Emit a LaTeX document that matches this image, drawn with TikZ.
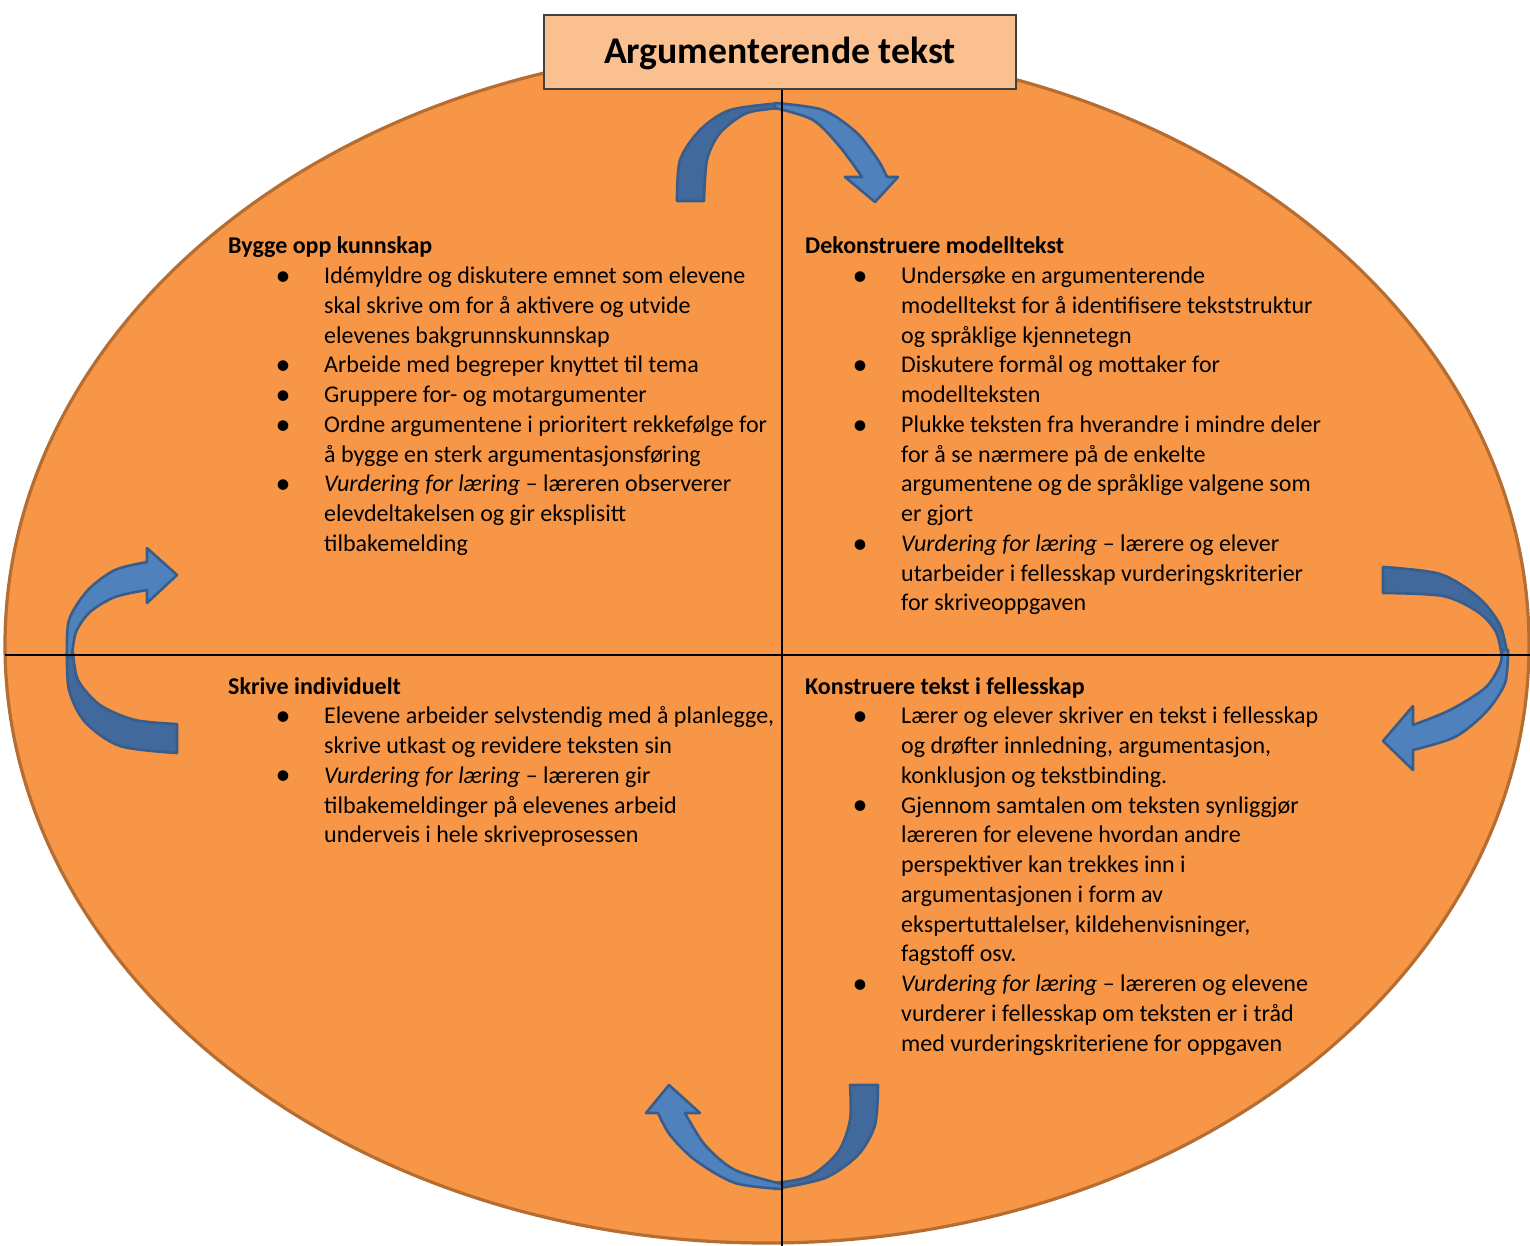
\documentclass[tikz,border=0pt]{standalone}
\usepackage{fontspec}
\setmainfont{Carlito}
\definecolor{orfill}{HTML}{F79646}
\definecolor{orline}{HTML}{B66D31}
\definecolor{titlefill}{HTML}{FAC090}
\definecolor{arlight}{HTML}{4F81BD}
\definecolor{ardark}{HTML}{41699B}
\definecolor{arline}{HTML}{385D8A}
\newcommand\bul{\makebox[96pt][l]{\hspace*{55pt}\makebox[0pt]{\raisebox{-1.6pt}{\fontsize{30}{30}\selectfont\textbullet}}}}
\newcommand\vfl{\textit{Vurdering for læring}}
\begin{document}
\begin{tikzpicture}[x=1pt,y=-1pt,
  divider/.style={black,line width=1.6pt},
  arrowback/.style={fill=ardark,draw=arline,line width=2.6pt,line join=round},
  arrowfront/.style={fill=arlight,draw=arline,line width=2.6pt,line join=round},
  quad/.style={anchor=base west,inner sep=0pt,font=\fontsize{24}{29.75}\selectfont},
  titlebox/.style={draw=black!75,line width=1.2pt,fill=titlefill,minimum width=472pt,minimum height=74pt,
     text height=23pt,text depth=0pt,inner sep=0pt,font=\fontsize{37.7}{42}\selectfont\bfseries}]
\useasboundingbox (0,0) rectangle (1530,1246);
% ellipse
\draw[fill=orfill,draw=orline,line width=3.2pt] (767,645) ellipse [x radius=762, y radius=598];
% arrows
% top
\path[arrowback] plot[smooth] coordinates {(677,201) (680,160) (700,130) (730,110) (782,103)}
  -- plot[smooth] coordinates {(782,108) (747,113) (720,133) (707,160) (704,201)} -- cycle;
\path[arrowfront] plot[smooth] coordinates {(775,103) (823,110) (857,133) (878,160) (887,177)}
  -- (898,177) -- (875,202) -- (845,177) -- (862,177)
  -- plot[smooth] coordinates {(862,177) (840,147) (813,120) (775,108)} -- cycle;
% right
\path[arrowback] plot[smooth] coordinates {(1383,567) (1440,574) (1478,597) (1500,625) (1508,658)}
  -- plot[smooth] coordinates {(1502,658) (1496,632) (1478,612) (1443,596) (1383,593)} -- cycle;
\path[arrowfront] plot[smooth] coordinates {(1508,650) (1505,683) (1486,712) (1455,737) (1413,750)}
  -- (1413,770) -- (1383,741) -- (1413,706) -- (1413,725)
  -- plot[smooth] coordinates {(1413,725) (1450,710) (1485,688) (1500,665) (1502,650)} -- cycle;
% bottom
\path[arrowback] plot[smooth] coordinates {(878,1085) (875,1125) (858,1155) (825,1178) (775,1189)}
  -- plot[smooth] coordinates {(775,1183) (810,1176) (838,1152) (850,1120) (850,1085)} -- cycle;
\path[arrowfront] plot[smooth] coordinates {(782,1189) (735,1183) (695,1160) (670,1135) (658,1113)}
  -- (646,1113) -- (669,1085) -- (700,1113) -- (685,1113)
  -- plot[smooth] coordinates {(685,1113) (705,1145) (735,1170) (782,1184)} -- cycle;
% left
\path[arrowback] plot[smooth] coordinates {(177,753) (120,746) (85,722) (69,690) (67,652)}
  -- plot[smooth] coordinates {(73,652) (78,680) (100,705) (135,720) (177,724)} -- cycle;
\path[arrowfront] plot[smooth] coordinates {(67,658) (69,620) (88,590) (115,570) (147,562)}
  -- (147,548) -- (177,575) -- (147,603) -- (147,590)
  -- plot[smooth] coordinates {(147,590) (115,597) (90,612) (76,632) (72,656)} -- cycle;
% title
\node[titlebox] (title) at (780,52) {Argumenterende tekst};
% dividers
\coordinate (hl) at (5,655);
\coordinate (hr) at (1530,655);
\coordinate (vb) at (782,1246);
\draw[divider] (hl) -- (hr);
\draw[divider] (title.south -| vb) -- (vb);
% quadrant texts
\node[quad] (q1) at (228,254) {\begin{tabular}[t]{@{}l@{}l@{}}
\multicolumn{2}{@{}l@{}}{\textbf{Bygge opp kunnskap}}\\
\bul & Idémyldre og diskutere emnet som elevene\\
 & skal skrive om for å aktivere og utvide\\
 & elevenes bakgrunnskunnskap\\
\bul & Arbeide med begreper knyttet til tema\\
\bul & Gruppere for- og motargumenter\\
\bul & Ordne argumentene i prioritert rekkefølge for\\
 & å bygge en sterk argumentasjonsføring\\
\bul & \vfl{} – læreren observerer\\
 & elevdeltakelsen og gir eksplisitt\\
 & tilbakemelding
\end{tabular}};
\node[quad] (q2) at (805,254) {\begin{tabular}[t]{@{}l@{}l@{}}
\multicolumn{2}{@{}l@{}}{\textbf{Dekonstruere modelltekst}}\\
\bul & Undersøke en argumenterende\\
 & modelltekst for å identifisere tekststruktur\\
 & og språklige kjennetegn\\
\bul & Diskutere formål og mottaker for\\
 & modellteksten\\
\bul & Plukke teksten fra hverandre i mindre deler\\
 & for å se nærmere på de enkelte\\
 & argumentene og de språklige valgene som\\
 & er gjort\\
\bul & \vfl{} – lærere og elever\\
 & utarbeider i fellesskap vurderingskriterier\\
 & for skriveoppgaven
\end{tabular}};
\node[quad] (q3) at (228,694) {\begin{tabular}[t]{@{}l@{}l@{}}
\multicolumn{2}{@{}l@{}}{\textbf{Skrive individuelt}}\\
\bul & Elevene arbeider selvstendig med å planlegge,\\
 & skrive utkast og revidere teksten sin\\
\bul & \vfl{} – læreren gir\\
 & tilbakemeldinger på elevenes arbeid\\
 & underveis i hele skriveprosessen
\end{tabular}};
\node[quad] (q4) at (805,694) {\begin{tabular}[t]{@{}l@{}l@{}}
\multicolumn{2}{@{}l@{}}{\textbf{Konstruere tekst i fellesskap}}\\
\bul & Lærer og elever skriver en tekst i fellesskap\\
 & og drøfter innledning, argumentasjon,\\
 & konklusjon og tekstbinding.\\
\bul & Gjennom samtalen om teksten synliggjør\\
 & læreren for elevene hvordan andre\\
 & perspektiver kan trekkes inn i\\
 & argumentasjonen i form av\\
 & ekspertuttalelser, kildehenvisninger,\\
 & fagstoff osv.\\
\bul & \vfl{} – læreren og elevene\\
 & vurderer i fellesskap om teksten er i tråd\\
 & med vurderingskriteriene for oppgaven
\end{tabular}};
\end{tikzpicture}
\end{document}
